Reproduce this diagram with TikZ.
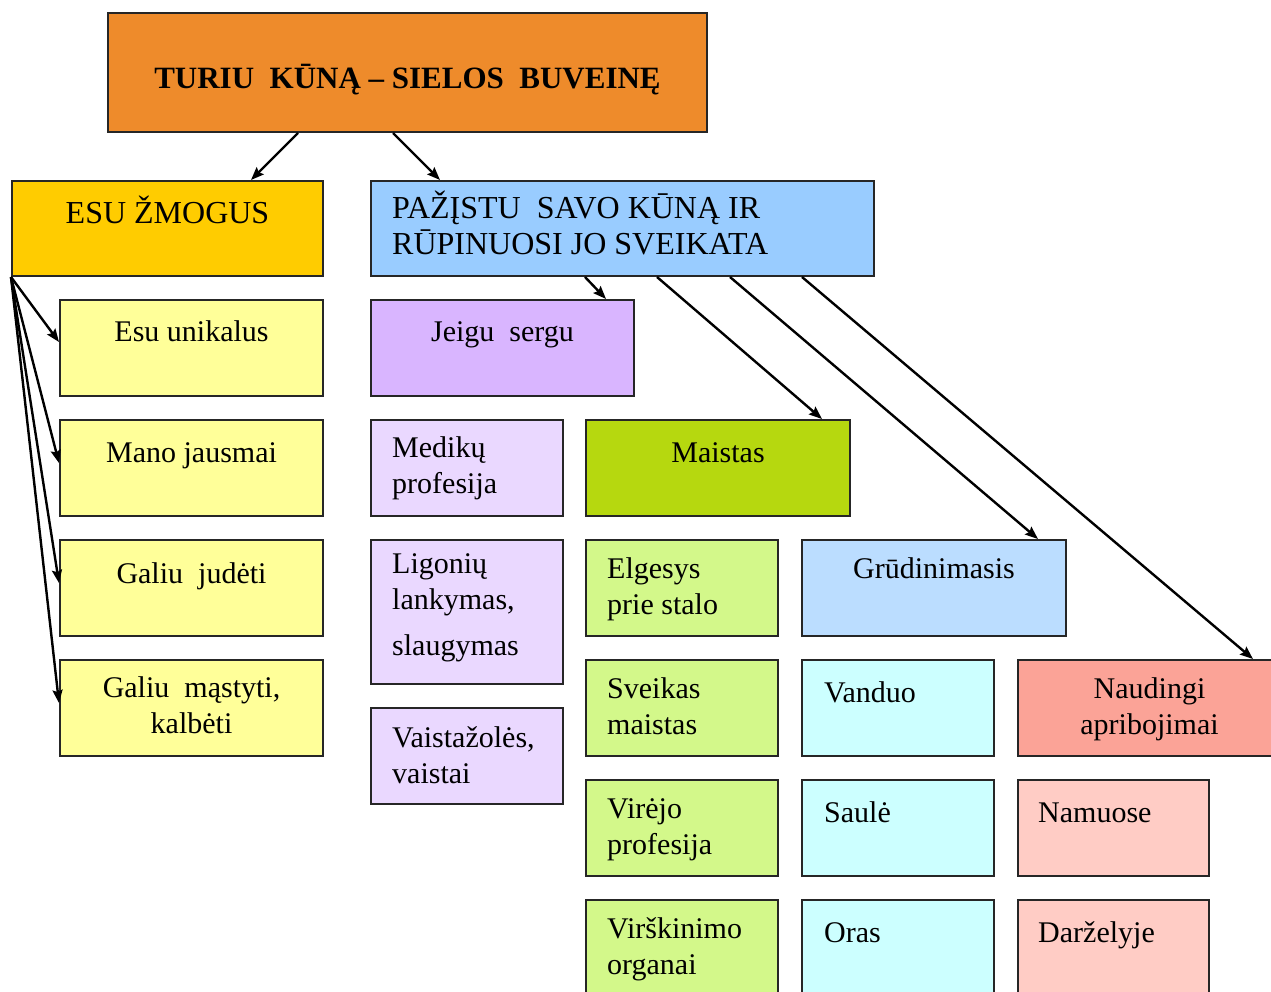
\documentclass[tikz,border=0pt]{standalone}
\usepackage{fontspec}
\setmainfont{Liberation Serif}
\usetikzlibrary{arrows.meta}
\newcommand\fs{\fontsize{30}{36}\selectfont}
\newcommand\fb{\fontsize{32}{36}\selectfont}
\newcommand\st{\rule{0pt}{28pt}}
\definecolor{cTitle}{HTML}{EE8B2B}
\definecolor{cEsu}{HTML}{FFCC00}
\definecolor{cPa}{HTML}{99CCFF}
\definecolor{cYel}{HTML}{FFFF99}
\definecolor{cJei}{HTML}{D9B5FF}
\definecolor{cLav}{HTML}{EAD8FF}
\definecolor{cMai}{HTML}{B6D80F}
\definecolor{cLgr}{HTML}{D3F88A}
\definecolor{cGru}{HTML}{BBDDFF}
\definecolor{cCya}{HTML}{CCFFFF}
\definecolor{cSal}{HTML}{FBA397}
\definecolor{cPnk}{HTML}{FFCCC5}
\tikzset{
  box/.style={draw=black!85, line width=2pt, inner sep=0pt, anchor=north west},
  tl/.style={anchor=north west, inner sep=0pt, align=left, font=\fs},
  tc/.style={anchor=north, inner sep=0pt, align=center, font=\fs},
  arr/.style={line width=2.4pt, -{Stealth[length=13pt,width=10pt,inset=2pt]}}
}
\begin{document}
\begin{tikzpicture}[x=1pt,y=-1pt]
\useasboundingbox (0,0) rectangle (1271,992);
\clip (0,0) rectangle (1271,992);
% boxes
\node[box, fill=cTitle, minimum width=599pt, minimum height=119pt] (title) at (107,12) {};
\node[box, fill=cEsu, minimum width=311pt, minimum height=95pt] (esu) at (11,180) {};
\node[box, fill=cPa, minimum width=503pt, minimum height=95pt] (pa) at (370,180) {};
\node[box, fill=cYel, minimum width=263pt, minimum height=96pt] (l1) at (59,299) {};
\node[box, fill=cYel, minimum width=263pt, minimum height=96pt] (l2) at (59,419) {};
\node[box, fill=cYel, minimum width=263pt, minimum height=96pt] (l3) at (59,539) {};
\node[box, fill=cYel, minimum width=263pt, minimum height=96pt] (l4) at (59,659) {};
\node[box, fill=cJei, minimum width=263pt, minimum height=96pt] (jei) at (370,299) {};
\node[box, fill=cLav, minimum width=192pt, minimum height=96pt] (med) at (370,419) {};
\node[box, fill=cLav, minimum width=192pt, minimum height=144pt] (lig) at (370,539) {};
\node[box, fill=cLav, minimum width=192pt, minimum height=96pt] (vai) at (370,707) {};
\node[box, fill=cMai, minimum width=264pt, minimum height=96pt] (mai) at (585,419) {};
\node[box, fill=cLgr, minimum width=192pt, minimum height=96pt] (elg) at (585,539) {};
\node[box, fill=cLgr, minimum width=192pt, minimum height=96pt] (sve) at (585,659) {};
\node[box, fill=cLgr, minimum width=192pt, minimum height=96pt] (vir) at (585,779) {};
\node[box, fill=cLgr, minimum width=192pt, minimum height=100pt] (vis) at (585,899) {};
\node[box, fill=cGru, minimum width=264pt, minimum height=96pt] (gru) at (801,539) {};
\node[box, fill=cCya, minimum width=192pt, minimum height=96pt] (van) at (801,659) {};
\node[box, fill=cCya, minimum width=192pt, minimum height=96pt] (sau) at (801,779) {};
\node[box, fill=cCya, minimum width=192pt, minimum height=100pt] (ora) at (801,899) {};
\node[box, fill=cSal, minimum width=263pt, minimum height=96pt] (nau) at (1017,659) {};
\node[box, fill=cPnk, minimum width=191pt, minimum height=96pt] (nam) at (1017,779) {};
\node[box, fill=cPnk, minimum width=191pt, minimum height=100pt] (dar) at (1017,899) {};
% texts
\node[tc, font=\fontsize{31}{37}\selectfont\bfseries] (titleT) at ([yshift=-48pt]title.north) {\st TURIU~~KŪNĄ – SIELOS~~BUVEINĘ};
\node[tc, font=\fb] (esuT) at ([yshift=-15pt]esu.north) {\st ESU ŽMOGUS};
\node[tl, font=\fb] (paT) at ([xshift=22pt,yshift=-10pt]pa.north west) {\st PAŽĮSTU~~SAVO KŪNĄ IR\\RŪPINUOSI JO SVEIKATA};
\node[tc] (l1T) at ([yshift=-14pt]l1.north) {\st Esu unikalus};
\node[tc] (l2T) at ([yshift=-15pt]l2.north) {\st Mano jausmai};
\node[tc] (l3T) at ([yshift=-16pt]l3.north) {\st Galiu~~judėti};
\node[tc] (l4T) at ([yshift=-10pt]l4.north) {\st Galiu~~mąstyti,\\kalbėti};
\node[tc] (jeiT) at ([yshift=-14pt]jei.north) {\st Jeigu~~sergu};
\node[tl] (medT) at ([xshift=22pt,yshift=-10pt]med.north west) {\st Medikų\\profesija};
\node[tl] (ligT) at ([xshift=22pt,yshift=-6pt]lig.north west) {\st Ligonių\\lankymas,\\[10pt]slaugymas};
\node[tl] (vaiT) at ([xshift=22pt,yshift=-12pt]vai.north west) {\st Vaistažolės,\\vaistai};
\node[tc] (maiT) at ([yshift=-15pt]mai.north) {\st Maistas};
\node[tl] (elgT) at ([xshift=22pt,yshift=-11pt]elg.north west) {\st Elgesys\\prie stalo};
\node[tl] (sveT) at ([xshift=22pt,yshift=-11pt]sve.north west) {\st Sveikas\\maistas};
\node[tl] (virT) at ([xshift=22pt,yshift=-11pt]vir.north west) {\st Virėjo\\profesija};
\node[tl] (visT) at ([xshift=22pt,yshift=-11pt]vis.north west) {\st Virškinimo\\organai};
\node[tc] (gruT) at ([yshift=-11pt]gru.north) {\st Grūdinimasis};
\node[tl] (vanT) at ([xshift=23pt,yshift=-15pt]van.north west) {\st Vanduo};
\node[tl] (sauT) at ([xshift=23pt,yshift=-15pt]sau.north west) {\st Saulė};
\node[tl] (oraT) at ([xshift=23pt,yshift=-15pt]ora.north west) {\st Oras};
\node[tc] (nauT) at ([xshift=0pt,yshift=-11pt]nau.north) {\st Naudingi\\apribojimai};
\node[tl] (namT) at ([xshift=21pt,yshift=-15pt]nam.north west) {\st Namuose};
\node[tl] (darT) at ([xshift=21pt,yshift=-15pt]dar.north west) {\st Darželyje};
% arrows
\draw[arr] ([xshift=191pt]title.south west) -- ([xshift=240pt]esu.north west);
\draw[arr] ([xshift=286pt]title.south west) -- ([xshift=70pt]pa.north west);
\draw[arr] (esu.south west) -- ([yshift=-43pt]l1.north west);
\draw[arr] (esu.south west) -- ([yshift=-44pt]l2.north west);
\draw[arr] (esu.south west) -- ([yshift=-44pt]l3.north west);
\draw[arr] (esu.south west) -- ([yshift=-44pt]l4.north west);
\draw[arr] ([xshift=215pt]pa.south west) -- ([xshift=236pt]jei.north west);
\draw[arr] ([xshift=287pt]pa.south west) -- ([xshift=237pt]mai.north west);
\draw[arr] ([xshift=360pt]pa.south west) -- ([xshift=237pt]gru.north west);
\draw[arr] ([xshift=432pt]pa.south west) -- ([xshift=236pt]nau.north west);
\end{tikzpicture}
\end{document}
